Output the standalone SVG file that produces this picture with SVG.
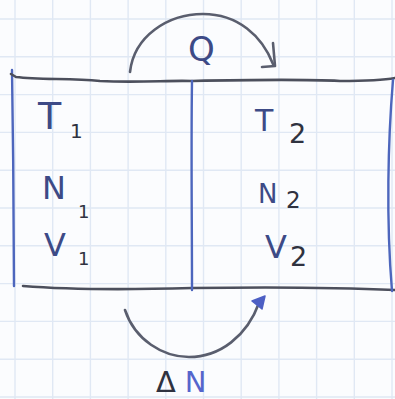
<svg xmlns="http://www.w3.org/2000/svg" width="395" height="399" viewBox="0 0 395 399">
  <style>
    .grid { stroke: #e0e8f4; stroke-width: 1.4; fill: none; }
    .ink { fill: none; stroke: #4c4f5c; stroke-width: 2.6; stroke-linecap: round; stroke-linejoin: round; }
    .blue { fill: none; stroke: #4d66bd; stroke-width: 2.4; stroke-linecap: round; }
    .arc { fill: none; stroke: #5a5e6e; stroke-width: 2.6; stroke-linecap: round; stroke-linejoin: round; }
    .lbl { font-family: "DejaVu Sans", "Liberation Sans", sans-serif; fill: #3d4a86; }
    .dark { fill: #2f3240; }
  </style>

  <!-- squared paper -->
  <rect width="395" height="399" fill="#fbfcfe"/>
  <path class="grid" d="M15,0V399 M52.7,0V399 M90.4,0V399 M128.1,0V399 M165.8,0V399 M203.5,0V399 M241.2,0V399 M278.9,0V399 M316.6,0V399 M354.3,0V399 M392,0V399
                         M0,19H395 M0,56.8H395 M0,94.6H395 M0,132.4H395 M0,170.2H395 M0,208H395 M0,245.8H395 M0,283.6H395 M0,321.4H395 M0,359.2H395 M0,397H395"/>

  <!-- container with partition -->
  <g id="box">
    <path class="blue" d="M12,70 C13,140 14,220 14,286"/>
    <path class="ink" d="M11,74 L16,77 C40,80 70,78 100,81 C140,83 170,80 192,81 C240,80 300,79 340,81 C365,81 385,80 395,78"/>
    <path class="ink" d="M23,286 C60,289 120,290 192,288 C260,287 330,287 395,290"/>
    <path class="blue" d="M393,80 C388,140 386,220 392,291"/>
  </g>
  <g id="wall">
    <path class="blue" d="M192,81 C191,150 192,220 192,290"/>
  </g>

  <!-- left chamber -->
  <g id="side1">
    <text class="lbl" x="38" y="129" font-size="38">T<tspan class="dark" x="70" y="138" font-size="20">1</tspan></text>
    <text class="lbl" x="42" y="199" font-size="32">N<tspan class="dark" x="78" y="218" font-size="18">1</tspan></text>
    <text class="lbl" x="44" y="256" font-size="32">V<tspan class="dark" x="78" y="265" font-size="18">1</tspan></text>
  </g>

  <!-- right chamber -->
  <g id="side2">
    <text class="lbl" x="255" y="131" font-size="30">T<tspan class="dark" x="289" y="143" font-size="27">2</tspan></text>
    <text class="lbl" x="258" y="203" font-size="26">N<tspan class="dark" x="286" y="208" font-size="23">2</tspan></text>
    <text class="lbl" x="265" y="258" font-size="32">V<tspan class="dark" x="290" y="266" font-size="27">2</tspan></text>
  </g>

  <!-- exchanges between chambers -->
  <g id="connectors">
    <path class="arc" d="M130,72 C134,36 168,14 203,14 C238,14 262,36 273,64"/>
    <path class="arc" d="M273,43 L275,66 L262,67"/>
    <path class="arc" d="M125,310 C135,340 163,357 189,357 C220,357 247,336 259,303"/>
    <path fill="#4d5fc4" stroke="#4d5fc4" stroke-width="1.5" stroke-linejoin="round" d="M265,296 L252,301 L262,309 Z"/>
  </g>

  <g id="label-Q">
    <text class="lbl" x="188" y="61" font-size="34">Q</text>
  </g>
  <g id="label-dN">
    <text class="lbl" x="156" y="392" font-size="29"><tspan class="dark">Δ</tspan><tspan dx="9" fill="#5565cc">N</tspan></text>
  </g>
</svg>
